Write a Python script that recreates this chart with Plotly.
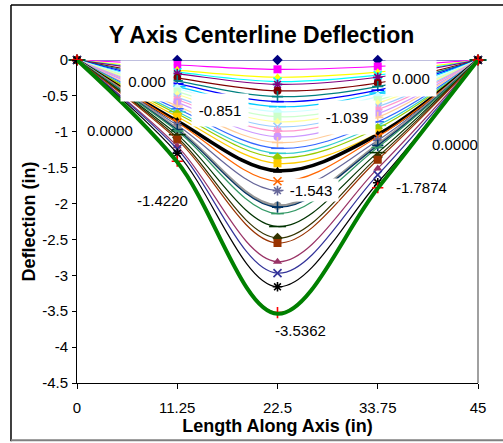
import plotly.graph_objects as go

# ---------------- data ----------------
x_positions = [0, 11.25, 22.5, 33.75, 45]
x_tick_labels = ["0", "11.25", "22.5", "33.75", "45"]
y_tick_values = [0, -0.5, -1, -1.5, -2, -2.5, -3, -3.5, -4, -4.5]
y_tick_labels = ["0", "-0.5", "-1", "-1.5", "-2", "-2.5", "-3", "-3.5", "-4", "-4.5"]

# deflection at the two supports (x=0 and x=45) is zero for every series
v_start = [0.0] * 34
v_end = [0.0] * 34
# deflection at 11.25, 22.5 and 33.75 in (one entry per load step)
v_11 = [0.00, -0.07, -0.14, -0.17, -0.19, -0.25, -0.29, -0.33, -0.37, -0.40,
        -0.44, -0.48, -0.52, -0.55, -0.59, -0.64, -0.68, -0.72, -0.75, -0.79,
        -0.851, -0.87, -0.91, -0.96, -0.97, -0.99, -1.04, -1.08, -1.11, -1.20,
        -1.24, -1.30, -1.41, -1.4220]
v_22 = [0.00, -0.13, -0.24, -0.30, -0.34, -0.43, -0.51, -0.58, -0.65, -0.72,
        -0.79, -0.86, -0.93, -0.99, -1.07, -1.15, -1.23, -1.30, -1.36, -1.44,
        -1.543, -1.69, -1.82, -2.03, -2.05, -2.14, -2.32, -2.48, -2.55, -2.81,
        -2.97, -3.16, -3.52, -3.5362]
v_33 = [0.00, -0.09, -0.17, -0.21, -0.24, -0.32, -0.37, -0.42, -0.46, -0.51,
        -0.56, -0.60, -0.65, -0.69, -0.75, -0.80, -0.86, -0.91, -0.95, -1.02,
        -1.039, -1.07, -1.12, -1.18, -1.19, -1.22, -1.29, -1.35, -1.39, -1.51,
        -1.60, -1.71, -1.78, -1.7874]

label_texts = ["0.000", "-0.851", "-1.039", "0.000", "-1.543",
               "0.0000", "0.0000", "-1.4220", "-1.7874", "-3.5362"]

# ---------------- styles ----------------
colors = ["#000080", "#FF00FF", "#FFFF00", "#00FFFF", "#800080", "#800000", "#008080", "#0000FF",
          "#00CCFF", "#CCFFFF", "#CCFFCC", "#FFFF99", "#99CCFF", "#FF99CC", "#CC99FF", "#FFCC99",
          "#3366FF", "#33CCCC", "#99CC00", "#FFCC00", "#000000", "#FF6600", "#666699", "#969696",
          "#003366", "#339966", "#003300", "#333300", "#993300", "#993366", "#333399", "#000000",
          "#FF0000", "#008000"]
symbols = ["diamond", "square", "triangle-up", "x-thin", "asterisk", "circle", "cross-thin", "line-ew",
           "line-ew", "diamond", "square", "triangle-up", "x-thin", "asterisk", "circle", "cross-thin",
           "line-ew", "line-ew", "diamond", "square", "triangle-up", "x-thin", "asterisk", "circle",
           "cross-thin", "line-ew", "line-ew", "diamond", "square", "triangle-up", "x-thin", "asterisk",
           "cross-thin", None]
line_widths = [1.2] * 34
line_widths[20] = 3.5
line_widths[23] = 3
line_widths[33] = 4

FONT = "Liberation Sans, Arial, sans-serif"

fig = go.Figure()
for i in range(34):
    ys = [v_start[i], v_11[i], v_22[i], v_33[i], v_end[i]]
    sym = symbols[i]
    thin = sym in ("x-thin", "asterisk", "cross-thin", "line-ew")
    if sym is None:
        mode = "lines"
        marker = None
    else:
        mode = "lines+markers"
        size = 8
        if sym == "line-ew":
            size = 9 if i in (7, 16, 25) else 12
        marker = dict(symbol=sym, size=size, color=colors[i],
                      line=dict(color=colors[i], width=1.6 if thin else 0))
    fig.add_trace(go.Scatter(
        x=x_positions, y=ys, mode=mode, marker=marker,
        line=dict(color=colors[i], width=line_widths[i], shape="spline", smoothing=1.0),
        cliponaxis=False, showlegend=False, hoverinfo="skip"))

# label placements (x, y, box width, box height)
label_places = [(7.83, -0.293, 50, 38), (16.08, -0.697, 54, 30), (30.33, -0.801, 54, 31),
                (37.46, -0.258, 48, 33), (26.29, -1.811, 52, 20),
                (3.74, -0.989, None, None), (42.46, -1.184, None, None),
                (9.57, -1.964, None, None), (38.64, -1.783, None, None), (25.06, -3.775, None, None)]
for txt, (ax_, ay_, w, h) in zip(label_texts, label_places):
    ann = dict(x=ax_, y=ay_, xref="x", yref="y", text=txt, showarrow=False,
               font=dict(family=FONT, size=15, color="#000000"))
    if w is not None:
        ann.update(width=w, height=h, bgcolor="#FFFFFF")
    fig.add_annotation(**ann)

# chart area border
fig.add_shape(type="line", xref="paper", yref="paper", x0=-0.1646, x1=-0.1646, y0=-0.18, y1=1.170,
              line=dict(color="#000000", width=1.5), layer="above")
fig.add_shape(type="line", xref="paper", yref="paper", x0=-0.1646, x1=1.08, y0=1.170, y1=1.170,
              line=dict(color="#000000", width=1.5), layer="above")
fig.add_shape(type="line", xref="paper", yref="paper", x0=-0.1646, x1=1.08, y0=-0.177, y1=-0.177,
              line=dict(color="#808080", width=2), layer="above")
# plot area border (right)
fig.add_shape(type="line", xref="paper", yref="paper", x0=1, x1=1, y0=0, y1=1,
              line=dict(color="#A0A0A0", width=2), layer="below")

fig.update_layout(
    width=503, height=443,
    margin=dict(l=77, r=25, t=60, b=60, autoexpand=False),
    paper_bgcolor="#FFFFFF", plot_bgcolor="#FFFFFF",
    title=dict(text="<b>Y Axis Centerline Deflection</b>", x=0.52, xanchor="center",
               xref="container", yref="container",
               y=1 - 35 / 443, yanchor="middle", font=dict(family=FONT, size=23, color="#000000")),
    xaxis=dict(range=[0, 45], tickvals=x_positions, ticktext=x_tick_labels, automargin=False,
               showgrid=False, zeroline=False, showline=True, linecolor="#000000", linewidth=1,
               ticks="outside", ticklen=5, tickcolor="#000000", ticklabelstandoff=6,
               tickfont=dict(family=FONT, size=15, color="#000000"),
               title=dict(text="<b>Length Along Axis (in)</b>", standoff=0,
                          font=dict(family=FONT, size=18, color="#000000"))),
    yaxis=dict(range=[-4.5, 0], tickvals=y_tick_values, ticktext=y_tick_labels, automargin=False,
               showgrid=False, zeroline=False, showline=True, linecolor="#000000", linewidth=1,
               ticks="outside", ticklen=4, tickcolor="#000000", ticklabelstandoff=1,
               tickfont=dict(family=FONT, size=15, color="#000000"),
               title=dict(text="<b>Deflection (in)</b>", standoff=1,
                          font=dict(family=FONT, size=18, color="#000000"))),
)

fig.write_html("out.html", config={"displayModeBar": False},
               post_script="document.body.style.margin='0';document.body.style.overflow='hidden';")
